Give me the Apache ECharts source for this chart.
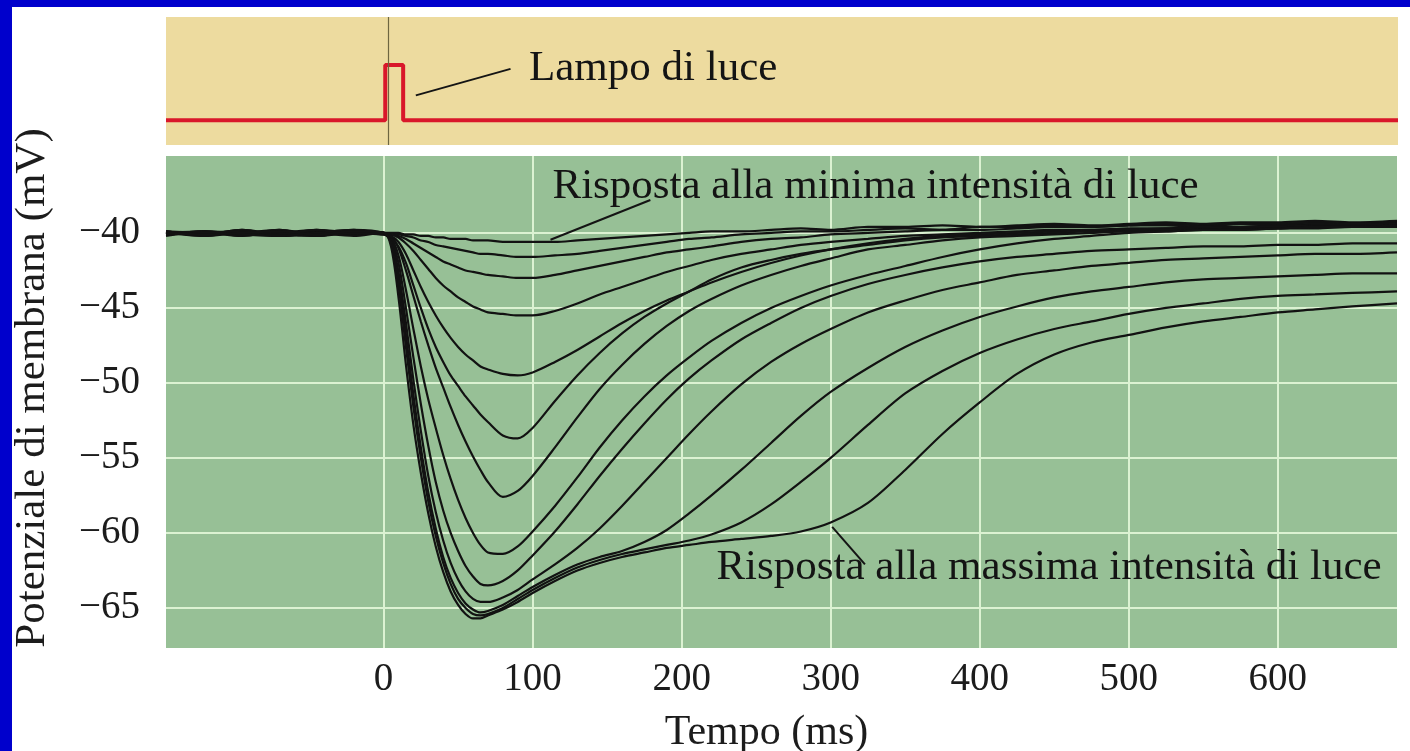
<!DOCTYPE html>
<html>
<head>
<meta charset="utf-8">
<title>Risposta di un fotorecettore a lampi di luce</title>
<script src="https://cdn.jsdelivr.net/npm/echarts@6/dist/echarts.min.js"></script>
<style>
  html, body { margin: 0; padding: 0; background: #fff; }
  #main { position: absolute; left: 0; top: 0; width: 1410px; height: 751px; }
  .bordo { position: absolute; background: #0000cc; }
</style>
</head>
<body>
<div id="main"></div>
<div class="bordo" style="left:0;top:0;width:1410px;height:7px"></div>
<div class="bordo" style="left:0;top:0;width:12px;height:751px"></div>
<script>
// tempo comune a tutte le tracce (ms)
const timeMs = [-146, -120, -95, -70, -45, -20, 0,
  5, 10, 15, 20, 25, 30, 35, 40, 45, 50, 55, 60, 65, 70,
  80, 90, 100, 115, 130, 145, 160, 175, 190, 205, 220, 240, 260, 280, 300,
  325, 350, 375, 400, 425, 450, 475, 500, 525, 550, 575, 600, 625, 650, 680];

// potenziale di membrana (mV), dalla luce più debole alla più forte
const risposta1 = [-39.9, -40.1, -39.8, -40.2, -40.0, -39.8, -40.0,
  -40.0, -40.0, -40.1, -40.1, -40.2, -40.2, -40.3, -40.3, -40.4, -40.4, -40.4, -40.5, -40.5, -40.5,
  -40.6, -40.6, -40.6, -40.6, -40.5, -40.4, -40.3, -40.2, -40.1, -40.0, -39.9, -39.9, -39.8, -39.7, -39.8,
  -39.6, -39.6, -39.5, -39.6, -39.5, -39.4, -39.5, -39.4, -39.3, -39.4, -39.3, -39.3, -39.2, -39.3, -39.2];
const risposta2 = [-40.1, -39.9, -40.2, -39.9, -40.1, -40.0, -40.1,
  -40.1, -40.1, -40.2, -40.3, -40.5, -40.6, -40.8, -40.9, -41.0, -41.1, -41.2, -41.3, -41.4, -41.4,
  -41.5, -41.6, -41.6, -41.5, -41.4, -41.2, -41.0, -40.8, -40.6, -40.4, -40.3, -40.1, -40.0, -39.9, -39.9,
  -39.8, -39.7, -39.8, -39.6, -39.6, -39.5, -39.6, -39.5, -39.4, -39.5, -39.4, -39.4, -39.3, -39.4, -39.3];
const risposta3 = [-39.9, -40.0, -40.1, -39.8, -40.2, -39.9, -40.0,
  -40.1, -40.2, -40.4, -40.7, -41.0, -41.3, -41.6, -41.9, -42.1, -42.3, -42.5, -42.6, -42.7, -42.8,
  -42.9, -43.0, -43.0, -42.8, -42.5, -42.2, -41.9, -41.6, -41.3, -41.1, -40.9, -40.6, -40.4, -40.3, -40.1,
  -40.0, -39.9, -39.8, -39.8, -39.7, -39.6, -39.6, -39.5, -39.5, -39.6, -39.4, -39.5, -39.4, -39.4, -39.3];
const risposta4 = [-40.0, -40.2, -39.9, -40.1, -39.9, -40.1, -40.0,
  -40.1, -40.3, -40.7, -41.2, -41.8, -42.4, -43.0, -43.5, -43.9, -44.3, -44.6, -44.9, -45.1, -45.3,
  -45.4, -45.5, -45.5, -45.2, -44.7, -44.1, -43.6, -43.1, -42.6, -42.2, -41.8, -41.4, -41.1, -40.8, -40.6,
  -40.4, -40.2, -40.1, -40.0, -39.9, -39.8, -39.8, -39.7, -39.7, -39.6, -39.6, -39.5, -39.5, -39.4, -39.4];
const risposta5 = [-40.1, -39.9, -40.0, -40.2, -40.0, -39.9, -40.1,
  -40.2, -40.6, -41.4, -42.5, -43.6, -44.6, -45.5, -46.3, -47.0, -47.6, -48.1, -48.5, -48.9, -49.1,
  -49.4, -49.5, -49.3, -48.6, -47.8, -46.9, -46.0, -45.2, -44.5, -43.9, -43.3, -42.6, -42.0, -41.5, -41.1,
  -40.7, -40.4, -40.2, -40.1, -40.0, -39.9, -39.8, -39.8, -39.7, -39.7, -39.6, -39.6, -39.5, -39.5, -39.4];
const risposta6 = [-39.9, -40.1, -40.0, -39.8, -40.1, -40.0, -40.0,
  -40.3, -40.9, -42.0, -43.5, -45.0, -46.4, -47.6, -48.6, -49.5, -50.2, -50.9, -51.5, -52.1, -52.6,
  -53.5, -53.7, -53.0, -51.2, -49.5, -48.0, -46.7, -45.6, -44.7, -43.9, -43.1, -42.3, -41.8, -41.4, -41.1,
  -40.8, -40.5, -40.3, -40.2, -40.1, -40.0, -39.9, -39.9, -39.8, -39.8, -39.7, -39.7, -39.6, -39.6, -39.5];
const risposta7 = [-40.2, -39.9, -40.1, -40.0, -39.8, -40.1, -40.0,
  -40.2, -41.0, -42.5, -44.2, -45.9, -47.5, -49.0, -50.3, -51.6, -52.8, -53.9, -54.9, -55.8, -56.6,
  -57.6, -57.2, -56.2, -54.3, -52.3, -50.4, -48.8, -47.4, -46.2, -45.2, -44.4, -43.5, -42.8, -42.2, -41.7,
  -41.1, -40.8, -40.5, -40.3, -40.2, -40.1, -40.0, -39.9, -39.9, -39.8, -39.8, -39.7, -39.7, -39.6, -39.6];
const risposta8 = [-40.0, -40.1, -39.8, -40.1, -40.2, -39.9, -40.0,
  -40.3, -41.5, -43.8, -46.4, -48.9, -51.1, -53.0, -54.8, -56.4, -57.8, -59.0, -60.0, -60.8, -61.3,
  -61.4, -60.9, -59.9, -58.2, -56.3, -54.3, -52.5, -50.9, -49.5, -48.3, -47.2, -46.0, -45.0, -44.2, -43.5,
  -42.8, -42.2, -41.6, -41.1, -40.7, -40.4, -40.2, -40.0, -39.9, -39.8, -39.8, -39.7, -39.6, -39.6, -39.5];
const risposta9 = [-40.1, -40.0, -40.2, -39.9, -40.0, -40.2, -40.0,
  -40.4, -42.0, -45.0, -48.3, -51.4, -54.2, -56.6, -58.5, -60.0, -61.2, -62.2, -62.9, -63.4, -63.5,
  -63.2, -62.5, -61.5, -59.9, -58.1, -56.2, -54.4, -52.7, -51.1, -49.7, -48.5, -47.1, -46.0, -45.0, -44.2,
  -43.4, -42.8, -42.3, -41.9, -41.6, -41.4, -41.2, -41.1, -41.0, -40.9, -40.9, -40.8, -40.8, -40.7, -40.7];
const risposta10 = [-39.9, -40.2, -40.0, -40.1, -39.8, -40.0, -40.1,
  -40.5, -42.6, -46.0, -49.8, -53.2, -56.2, -58.6, -60.5, -62.0, -63.1, -63.9, -64.4, -64.6, -64.6,
  -64.3, -63.8, -63.1, -62.1, -61.0, -59.7, -58.2, -56.6, -55.0, -53.4, -51.9, -50.1, -48.6, -47.4, -46.4,
  -45.3, -44.5, -43.8, -43.3, -42.8, -42.5, -42.2, -42.0, -41.8, -41.7, -41.6, -41.5, -41.4, -41.4, -41.3];
const risposta11 = [-40.0, -39.9, -40.1, -40.2, -40.0, -39.8, -40.0,
  -40.6, -43.0, -46.8, -50.8, -54.3, -57.3, -59.7, -61.6, -63.0, -64.0, -64.7, -65.1, -65.3, -65.2,
  -64.8, -64.2, -63.6, -62.8, -62.1, -61.6, -61.2, -60.6, -59.8, -58.7, -57.5, -55.8, -54.0, -52.2, -50.6,
  -49.0, -47.6, -46.5, -45.6, -44.9, -44.3, -43.9, -43.6, -43.3, -43.1, -43.0, -42.9, -42.8, -42.7, -42.7];
const risposta12 = [-40.1, -40.0, -39.9, -40.0, -40.2, -40.0, -40.0,
  -40.7, -43.5, -47.6, -51.6, -55.0, -57.9, -60.2, -62.0, -63.4, -64.4, -65.0, -65.4, -65.5, -65.4,
  -65.0, -64.4, -63.8, -63.0, -62.3, -61.8, -61.4, -61.1, -60.8, -60.5, -60.1, -59.3, -58.1, -56.6, -55.0,
  -52.8, -50.7, -49.2, -48.0, -47.1, -46.4, -45.9, -45.4, -45.0, -44.7, -44.4, -44.2, -44.1, -44.0, -43.9];
const risposta13 = [-40.0, -40.1, -40.0, -39.9, -40.1, -39.9, -40.0,
  -40.9, -44.3, -48.8, -52.8, -56.0, -58.7, -60.9, -62.6, -63.9, -64.8, -65.4, -65.7, -65.7, -65.5,
  -65.1, -64.6, -64.0, -63.2, -62.5, -62.0, -61.6, -61.3, -61.0, -60.8, -60.6, -60.4, -60.2, -59.9, -59.3,
  -58.0, -55.8, -53.4, -51.3, -49.4, -48.1, -47.3, -46.8, -46.3, -45.9, -45.6, -45.3, -45.1, -44.9, -44.7];

const risposte = [risposta1, risposta2, risposta3, risposta4, risposta5, risposta6, risposta7,
  risposta8, risposta9, risposta10, risposta11, risposta12, risposta13];

// stimolo luminoso (pannello superiore)
const lampoTempo = [-146, 1, 1, 13, 13, 680];
const lampoLivello = [0, 0, 1, 1, 0, 0];

// etichette degli assi
const tempoTick = [0, 100, 200, 300, 400, 500, 600];
const potenzialeTick = [-65, -60, -55, -50, -45, -40];

var chartDom = document.getElementById("main");
var myChart = echarts.init(chartDom, null, { renderer: "canvas" });
var option;

const SERIF = "'Liberation Serif', 'DejaVu Serif', serif";
const testo = { fontFamily: SERIF, fontSize: 43, color: "#141414" };

function coppie(xs, ys) {
  return xs.map(function(x, i) { return [x, ys[i]]; });
}

// freccette e scritte, in coordinate dei dati
function freccia(nome, grid, punti) {
  return {
    name: nome, type: "line", xAxisIndex: grid, yAxisIndex: grid,
    data: punti, symbol: "none", silent: true,
    lineStyle: { color: "#141414", width: 2 }, z: 5
  };
}
function scritta(nome, grid, punto, parole) {
  return {
    name: nome, type: "scatter", xAxisIndex: grid, yAxisIndex: grid,
    data: [punto], symbolSize: 1, silent: true,
    itemStyle: { color: "rgba(0,0,0,0)", opacity: 1 },
    label: Object.assign({ show: true, position: "right", distance: 0, formatter: parole }, testo),
    z: 6
  };
}

let serieRisposte = risposte.map(function(valori, i) {
  if (valori.length !== timeMs.length) console.error("lunghezza errata", i + 1, valori.length);
  return {
    name: "risposta " + (i + 1), type: "line", xAxisIndex: 1, yAxisIndex: 1,
    data: coppie(timeMs, valori), symbol: "none", smooth: 0.3,
    lineStyle: { color: "#121212", width: 2.2 }, z: 3
  };
});

option = {
  animation: false,
  backgroundColor: "#ffffff",
  grid: [
    { left: 166, top: 17, width: 1232, height: 128, show: true, backgroundColor: "#eddb9f", borderWidth: 0, outerBoundsMode: "none", containLabel: false },
    { left: 166, top: 156, width: 1231, height: 492, show: true, backgroundColor: "#97c096", borderWidth: 0, outerBoundsMode: "none", containLabel: false }
  ],
  xAxis: [
    { type: "value", gridIndex: 0, min: -146, max: 680, show: false },
    {
      type: "value", gridIndex: 1, min: -146, max: 680,
      axisLine: { show: false },
      axisTick: { show: false, customValues: tempoTick },
      axisLabel: { customValues: tempoTick, fontFamily: SERIF, fontSize: 39, color: "#1c1c1c", margin: 12 },
      splitLine: { show: true, lineStyle: { color: "#dcf2d2", width: 2 } },
      name: "Tempo (ms)", nameLocation: "middle", nameGap: 64,
      nameTextStyle: { fontFamily: SERIF, fontSize: 42, color: "#1c1c1c", padding: [0, 30, 0, 0] }
    }
  ],
  yAxis: [
    { type: "value", gridIndex: 0, min: -0.45, max: 1.87, show: false },
    {
      type: "value", gridIndex: 1, min: -67.67, max: -34.87,
      axisLine: { show: false },
      axisTick: { show: false, customValues: potenzialeTick },
      axisLabel: {
        customValues: potenzialeTick, fontFamily: SERIF, fontSize: 39, color: "#1c1c1c", margin: 26,
        formatter: function(v) { return String(v).replace("-", "\u2212"); }
      },
      splitLine: { show: true, lineStyle: { color: "#dcf2d2", width: 2 } },
      name: "Potenziale di membrana (mV)", nameLocation: "middle", nameGap: 112,
      nameTextStyle: { fontFamily: SERIF, fontSize: 43, color: "#1c1c1c", padding: [0, 0, 0, 28] }
    }
  ],
  series: [
    {
      name: "lampo", type: "line", xAxisIndex: 0, yAxisIndex: 0,
      data: coppie(lampoTempo, lampoLivello), symbol: "none",
      lineStyle: { color: "#d9172a", width: 4 }, z: 4,
      markLine: {
        silent: true, symbol: "none", label: { show: false },
        lineStyle: { color: "#6e6640", width: 1.2, type: "solid" },
        data: [{ xAxis: 3 }]
      }
    },
    freccia("freccia lampo", 0, [[21.5, 0.45], [85, 0.93]]),
    scritta("testo lampo", 0, [97, 0.93], "Lampo di luce"),
    ...serieRisposte,
    freccia("freccia minima", 1, [[112, -40.45], [179, -37.8]]),
    scritta("testo minima", 1, [113, -36.9], "Risposta alla minima intensità di luce"),
    freccia("freccia massima", 1, [[301, -59.6], [323, -62.1]]),
    scritta("testo massima", 1, [223, -62.3], "Risposta alla massima intensità di luce")
  ]
};

option && myChart.setOption(option);
</script>
</body>
</html>
